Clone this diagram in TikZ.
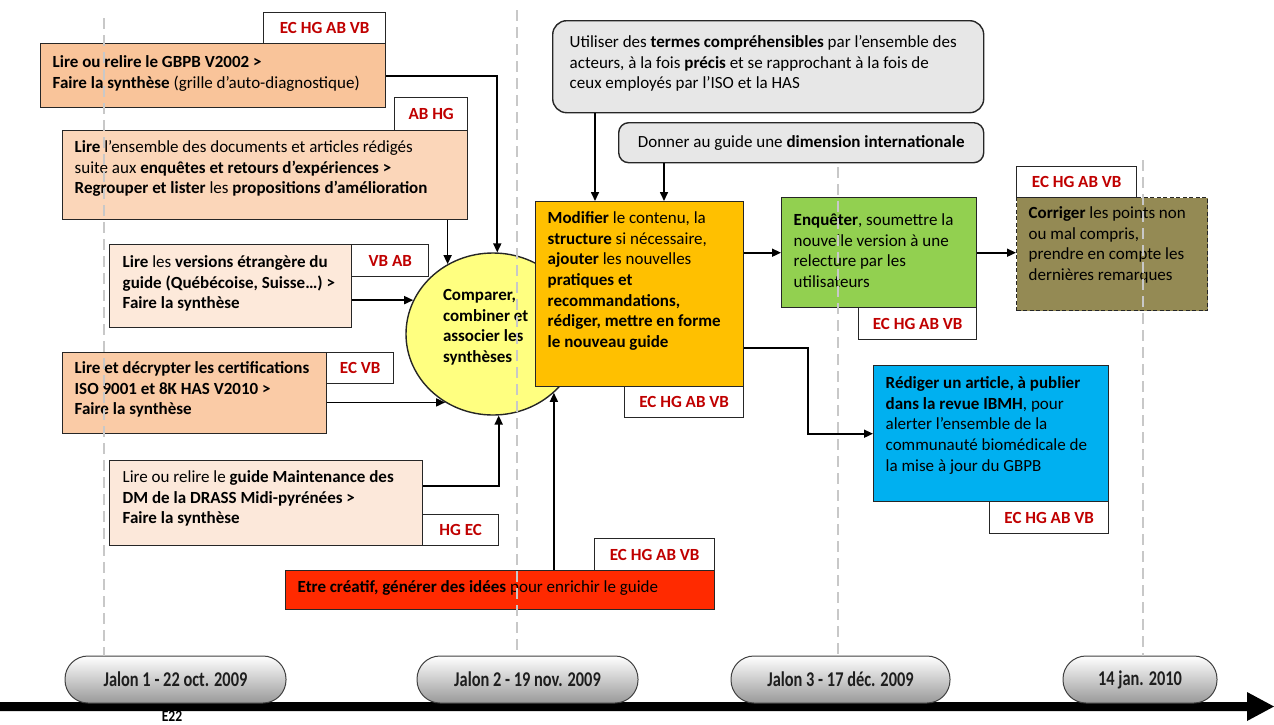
\documentclass[tikz,border=0pt]{standalone}
\usepackage{fontspec}
\usepackage{graphicx}
\setmainfont{Carlito}
\usetikzlibrary{arrows.meta,shapes.geometric}

\definecolor{edge}{HTML}{262626}
\definecolor{tagred}{HTML}{C00000}
\definecolor{peachA}{HTML}{F9C49A}
\definecolor{peachB}{HTML}{FBD6B9}
\definecolor{peachC}{HTML}{FDE9DA}
\definecolor{peachD}{HTML}{FACBA6}
\definecolor{peachE}{HTML}{FCE8DA}
\definecolor{greyfill}{HTML}{E7E7E7}
\definecolor{circyellow}{HTML}{FFFF80}
\definecolor{amber}{HTML}{FFC000}
\definecolor{leaf}{HTML}{92D050}
\definecolor{olive}{HTML}{948A54}
\definecolor{sky}{HTML}{00B0F0}
\definecolor{scarlet}{HTML}{FF2A00}
\definecolor{guidegrey}{HTML}{C8C8C8}
\definecolor{pillink}{HTML}{1E1E1E}

\newcommand\bxfont{\fontsize{17}{20.6}\selectfont}
\newcommand\tgfont{\fontsize{17}{20}\selectfont\bfseries}
% #1 width, #2 height, #3 top padding, #4 left padding, #5 text
\newcommand\bxtext[5]{\parbox[c][#2][t]{#1}{\vspace*{#3}\leftskip=#4\relax\rightskip=-30pt plus 1fil\relax\strut#5}}
\newcommand\pilltext[1]{\scalebox{0.78}[1]{\fontsize{21}{21}\selectfont\bfseries #1}}

\begin{document}
\begin{tikzpicture}[x=1pt,y=-1pt,
  pbox/.style={draw=edge, line width=1.4pt, inner sep=0pt, anchor=north west, font=\bxfont, text=black},
  tag/.style={draw=edge, line width=1.4pt, fill=white, inner sep=0pt, anchor=north west, text=tagred, font=\tgfont},
  gbox/.style={pbox, fill=greyfill},
  arr/.style={draw=black, line width=1.6pt, -{Triangle[length=9pt,width=8pt]}},
  guide/.style={draw=guidegrey, line width=2.6pt, dash pattern=on 11pt off 6pt},
  pill/.style={draw=black!75, line width=1pt, rounded corners=23pt, top color=white, bottom color=black!40, minimum height=47pt, inner sep=0pt, text=pillink},
]
\useasboundingbox (0,0) rectangle (1274,724);

% time axis
\fill[black] (0,702) -- (1247,702) -- (1247,692) -- (1274,706.5) -- (1247,721) -- (1247,711) -- (0,711) -- cycle;

% merging step
\node[ellipse, draw=edge, line width=1.4pt, fill=circyellow, minimum width=174pt, minimum height=162pt, inner sep=0pt, font=\bxfont\bfseries] (circ) at (493,334)
  {\parbox[c][96pt][t]{100pt}{\strut Comparer,\\ combiner et\\ associer les\\ synthèses}};

% reading tasks
\node[pbox, fill=peachA] (A) at (40,43)
  {\bxtext{345pt}{64pt}{9.6pt}{12pt}{\textbf{Lire ou relire le GBPB V2002 >}\\ \textbf{Faire la synthèse} (grille d’auto-diagnostique)}};
\node[tag, minimum width=122pt, minimum height=31pt] (tA) at (263,12) {EC HG AB VB};

\node[pbox, fill=peachB] (B) at (62,130)
  {\bxtext{405pt}{89pt}{7.6pt}{12pt}{\textbf{Lire} l’ensemble des documents et articles rédigés\\ suite aux \textbf{enquêtes et retours d’expériences >}\\ \textbf{Regrouper et lister} les \textbf{propositions d’amélioration}}};
\node[tag, minimum width=73pt, minimum height=33pt] (tB) at (394,97) {AB HG};

\node[pbox, fill=peachC] (C) at (109,244)
  {\bxtext{242pt}{83pt}{8.6pt}{13pt}{\textbf{Lire} les \textbf{versions étrangère du}\\ \textbf{guide (Québécoise, Suisse…) >}\\ \textbf{Faire la synthèse}}};
\node[tag, minimum width=77pt, minimum height=32pt] (tC) at (351,244) {VB AB};

\node[pbox, fill=peachD] (D) at (62,352)
  {\bxtext{264pt}{81pt}{6.6pt}{12pt}{\textbf{Lire et décrypter les certifications}\\ \textbf{ISO 9001 et  8K HAS V2010 >}\\ \textbf{Faire la synthèse}}};
\node[tag, minimum width=67pt, minimum height=31pt] (tD) at (326,352) {EC VB};

\node[pbox, fill=peachE] (E) at (109,460)
  {\bxtext{313pt}{85pt}{7.6pt}{13pt}{Lire ou relire le \textbf{guide Maintenance des}\\ \textbf{DM de la DRASS Midi-pyrénées >}\\ \textbf{Faire la synthèse}}};
\node[tag, minimum width=76pt, minimum height=31pt] (tE) at (422,514) {HG EC};

% guiding principles
\node[gbox, rounded corners=14pt] (U) at (552,20)
  {\bxtext{431pt}{92pt}{12.6pt}{17pt}{Utiliser des \textbf{termes compréhensibles} par l’ensemble des\\ acteurs, à la fois \textbf{précis} et se rapprochant à la fois de\\ ceux employés par l’ISO et la HAS}};
\node[gbox, rounded corners=10pt, minimum width=365pt, minimum height=40pt, align=center] (V) at (618,122)
  {Donner au guide une \textbf{dimension  internationale}};

% writing, review and follow-up
\node[pbox, fill=amber] (Y) at (535,201)
  {\bxtext{208pt}{185pt}{7.6pt}{12pt}{\textbf{Modifier} le contenu, la\\ \textbf{structure} si nécessaire,\\ \textbf{ajouter} les nouvelles\\ \textbf{pratiques et}\\ \textbf{recommandations,}\\ \textbf{rédiger, mettre en forme}\\ \textbf{le nouveau guide}}};
\node[tag, minimum width=119pt, minimum height=31pt] (tY) at (624,386) {EC HG AB VB};

\node[pbox, fill=leaf] (G) at (781,197)
  {\bxtext{195pt}{110pt}{13.6pt}{12pt}{\textbf{Enquêter}, soumettre la\\ nouvelle version à une\\ relecture par les\\ utilisateurs}};
\node[tag, minimum width=118pt, minimum height=32pt] (tG) at (858,307) {EC HG AB VB};

\node[pbox, fill=olive, dash pattern=on 4pt off 2.5pt] (O) at (1016,197)
  {\bxtext{191pt}{113pt}{6.6pt}{12pt}{\textbf{Corriger} les points non\\ ou mal compris,\\ prendre en compte les\\ dernières remarques}};
\node[tag, minimum width=120pt, minimum height=31pt] (tO) at (1016,166) {EC HG AB VB};

\node[pbox, fill=sky] (Bl) at (873,365)
  {\bxtext{235pt}{136pt}{8.6pt}{12pt}{\textbf{Rédiger un article, à publier}\\ \textbf{dans la revue IBMH}, pour\\ alerter l’ensemble de la\\ communauté biomédicale de\\ la mise à jour du GBPB}};
\node[tag, minimum width=119pt, minimum height=32pt] (tBl) at (989,501) {EC HG AB VB};

\node[pbox, fill=scarlet] (R) at (285,570)
  {\bxtext{429pt}{39pt}{7.6pt}{12pt}{\textbf{Etre créatif, générer des idées} pour enrichir le guide}};
\node[tag, minimum width=120pt, minimum height=32pt] (tR) at (594,538) {EC HG AB VB};

% flows into the merging step
\draw[arr] (A.east) -| (circ.87);
\draw[arr] (B.south -| circ.123) -- (circ.123);
\draw[arr] (C.east |- circ.157) -- (circ.157);
\draw[arr] (D.east |- circ.235) -- (circ.235);
\draw[arr] ([yshift=17.5pt]E.east) -| (circ.274);
\draw[arr] (R.north -| circ.316) -- (circ.316);

% flows into and out of the writing step
\coordinate (yin1) at ([xshift=60pt]Y.north west);
\coordinate (yin2) at ([xshift=129pt]Y.north west);
\draw[arr] (U.south -| yin1) -- (yin1);
\draw[arr] (V.south -| yin2) -- (yin2);
\draw[arr] (G.west -| Y.east) -- (G.west);
\draw[arr] (G.east) -- (G.east -| O.west);
\coordinate (yout) at ([yshift=-53.5pt]Y.east);
\coordinate (bend) at (808,0);
\draw[arr] (yout) -- (yout -| bend) |- (Bl.west);

% milestones
\node[pill, minimum width=221pt] (P1) at (175.5,679.5) {\pilltext{Jalon 1 - 22 oct. 2009}};
\node[pill, minimum width=221pt] (P2) at (527.5,679.5) {\pilltext{Jalon 2 - 19 nov. 2009}};
\node[pill, minimum width=219pt] (P3) at (840.5,679.5) {\pilltext{Jalon 3 - 17 déc. 2009}};
\node[pill, minimum width=154pt] (P4) at (1140,679.5) {\pilltext{14 jan. 2010}};
\node[font=\fontsize{16}{16}\selectfont\bfseries, inner sep=0pt] (e22) at (172,716) {\scalebox{0.85}[1]{E22}};

% milestone guide lines
\coordinate (g1) at (104,18);
\coordinate (g2) at (517,10);
\coordinate (g3) at (838,167);
\coordinate (g4) at (1143,160);
\draw[guide] (g1) -- (g1 |- P1.north);
\draw[guide] (g2) -- (g2 |- P2.north);
\draw[guide] (g3) -- (g3 |- P3.north);
\draw[guide] (g4) -- (g4 |- P4.north);
\end{tikzpicture}
\end{document}
